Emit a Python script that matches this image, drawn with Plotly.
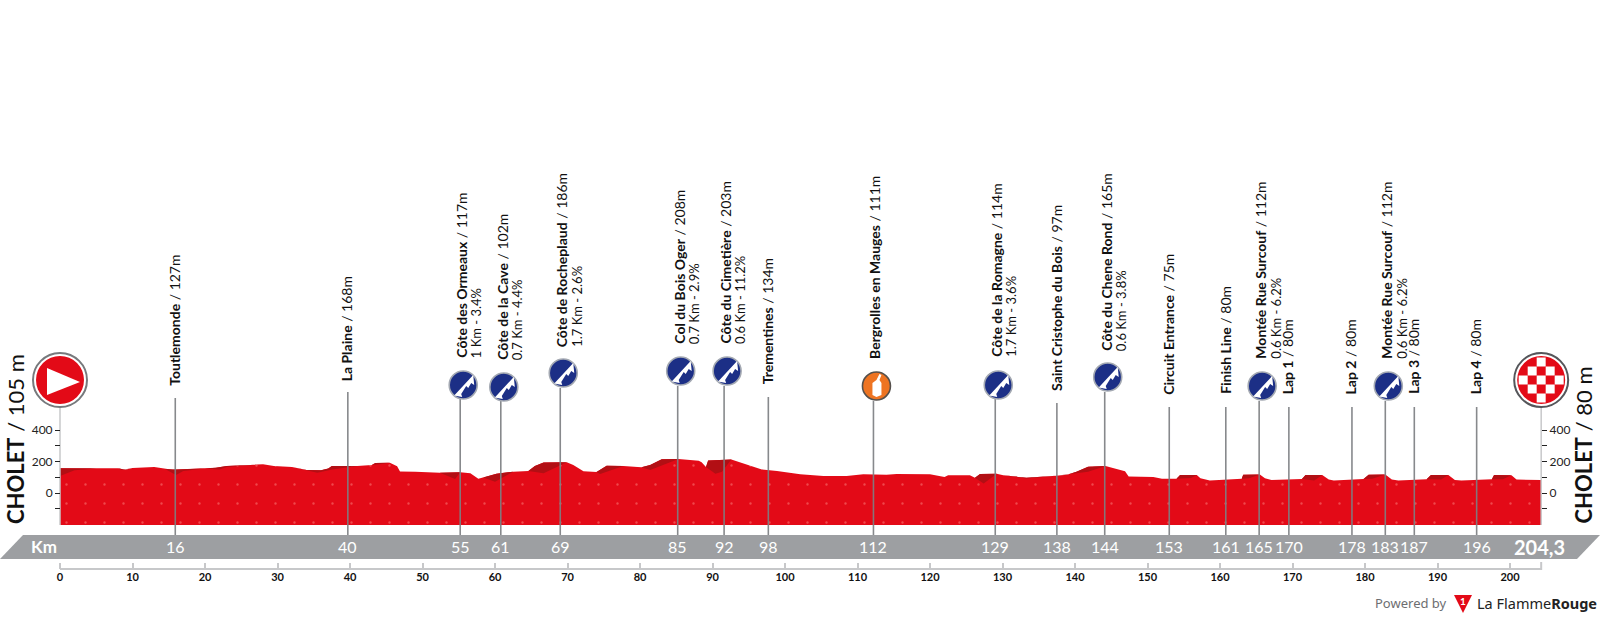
import plotly.graph_objects as go

# profile (km, metres on the chart's own scale)
profile_km = [
    0, 2, 5, 8, 9, 10, 13, 14.5, 15.5, 16, 20, 21.5, 23, 28, 29.5, 32, 34, 36, 37, 37.5, 41, 43, 43.5, 45.5, 46.5,
    46.9, 49, 52.4, 55.2, 56.6, 57.7, 58.4, 60.2, 62.5, 64.6, 65.5, 66.7, 69.9, 70.8, 72.2, 74, 75.4, 77.7, 80.2,
    81.4, 83, 85.3, 88.1, 88.5, 89.1, 89.4, 92.6, 94.7, 96.8, 98.9, 102.1, 105.3, 108.5, 110.8, 114, 115.4, 120,
    122, 122.5, 125.5, 126.2, 126.9, 129.2, 130.1, 133.3, 137.4, 138.9, 140.2, 141.8, 144.2, 146.9, 147.4, 150.8,
    152, 154, 154.5, 156.8, 157.3, 158.6, 163, 163.2, 165.5, 166.2, 167.1, 171.3, 171.8, 174.1, 175, 175.7, 179.8,
    180.5, 182.8, 183.7, 184.6, 188.5, 189.1, 191.5, 192.4, 193.3, 197.5, 197.8, 200.2, 200.9, 204.3,
]
profile_m = [
    157, 157, 155, 157, 147, 158, 165, 152, 148, 150, 155, 160, 172, 182, 172, 165, 146, 145, 155, 172, 172, 177,
    190, 192, 170, 137, 135, 129, 131, 125, 91, 99, 123, 135, 140, 171, 193, 195, 178, 138, 133, 173, 171, 163,
    178, 214, 216, 205, 195, 165, 207, 212, 182, 150, 140, 119, 108, 108, 119, 116, 121, 119, 102, 112, 112, 97,
    121, 123, 112, 97, 110, 116, 135, 167, 171, 138, 104, 102, 91, 91, 114, 114, 93, 80, 91, 116, 118, 93, 83, 89,
    114, 114, 85, 80, 89, 116, 118, 85, 80, 87, 114, 114, 83, 80, 87, 114, 112, 85, 83,
]

# darker climbing faces: lower edge of each one, ends sit on profile points
shade_km = [
    [0, 2, 5], [8, 8.5, 10], [14.5, 16, 17, 20], [20, 22, 23, 28], [32, 35.5, 37.5, 41], [41, 43.5, 45.5],
    [52.4, 54.5, 55.2], [58.4, 60, 62.5], [64.6, 66.7, 69.9], [74, 74.5, 77.7], [80.2, 81.4, 85.3],
    [89.1, 90.4, 91.3, 92.6], [126.2, 127.4, 129.2], [130.1, 133.3, 137.4], [137.4, 141.8, 144.2],
    [154, 156, 156.8], [163, 164, 165.5], [171.3, 173, 174.1], [179.8, 181, 182.8], [188.5, 190.5, 191.5],
    [197.5, 199, 200.2],
]
shade_m = [
    [108, 145, 155], [157, 146, 158], [152, 114, 140, 155], [155, 150, 165, 182], [165, 129, 150, 172],
    [172, 180, 192], [129, 89, 131], [99, 72, 135], [140, 125, 195], [133, 121, 171], [163, 146, 216],
    [165, 123, 135, 212], [97, 61, 123], [112, 92, 110], [110, 135, 171], [91, 95, 114], [91, 93, 118],
    [89, 80, 114], [89, 90, 118], [87, 85, 114], [87, 88, 112],
]

stop_km = [15.9, 39.7, 55.2, 60.8, 69, 85.2, 91.6, 97.7, 112.2, 129, 137.5, 144.1, 153, 160.8, 165.4, 169.5, 178.2,
           182.8, 186.8, 195.4]
stop_tick = ["16", "40", "55", "61", "69", "85", "92", "98", "112", "129", "138", "144", "153", "161", "165", "170",
             "178", "183", "187", "196"]
stop_name = ["Toutlemonde", "La Plaine", "Côte des Ormeaux", "Côte de la Cave", "Côte de Rocheplaud",
             "Col du Bois Oger", "Côte du Cimetière", "Trementines", "Bergrolles en Mauges", "Côte de la Romagne",
             "Saint Cristophe du Bois", "Côte du Chene Rond", "Circuit Entrance", "Finish Line",
             "Montée Rue Surcouf", "Lap 1", "Lap 2", "Montée Rue Surcouf", "Lap 3", "Lap 4"]
stop_height = [127, 168, 117, 102, 186, 208, 203, 134, 111, 114, 97, 165, 75, 80, 112, 80, 80, 112, 80, 80]
stop_climb = ["", "", "1 Km - 3.4%", "0.7 Km - 4.4%", "1.7 Km - 2.6%", "0.7 Km - 2.9%", "0.6 Km - 11.2%", "", "",
              "1.7 Km - 3.6%", "", "0.6 Km - 3.8%", "", "", "0.6 Km - 6.2%", "", "", "0.6 Km - 6.2%", "", ""]
stop_icon = ["", "", "climb", "climb", "climb", "climb", "climb", "", "feed", "climb", "", "climb", "", "", "climb",
             "", "", "climb", "", ""]

ruler_ticks = [0, 10, 20, 30, 40, 50, 60, 70, 80, 90, 100, 110, 120, 130, 140, 150, 160, 170, 180, 190, 200]
elev_ticks = [-100, 0, 100, 200, 300, 400]
elev_labels = ["", "0", "", "200", "", "400"]
total_km = 204.3

# page layout in pixels, kept apart from the data
W, H = 1600, 620
KM_PX = 7.25
M_PX = 0.1575
stem_top_px = [398, 392, 398, 401, 388, 386, 386, 397, 401, 399, 403, 392, 407, 407, 401, 407, 407, 401, 407, 407]
label_bottom_px = [387, 382, 359, 361, 348, 345, 345, 385, 360, 358, 392, 352, 396, 395, 360, 395, 395, 360, 395, 395]
icon_px = [None, None, 385, 387, 373, 371, 371, None, 386, 385, None, 377, None, None, 386, None, None, 386, None, None]

RED = "#E30A17"
DARK_RED = "#B20F14"
NAVY = "#1C2F86"
GREY = "#9D9FA2"
FONT = "Lato"


def m_at(py):
    return (493 - py) / M_PX


def px(x):
    return x / W


def py(y):
    return 1 - y / H


fig = go.Figure()

# profile
fig.add_trace(go.Scatter(
    x=[0] + profile_km + [total_km, 0],
    y=[m_at(525)] + profile_m + [m_at(525), m_at(525)],
    mode="lines", fill="toself", line=dict(width=0), fillcolor=RED,
    fillpattern=dict(shape=".", size=19, solidity=0.012, fgcolor="#F0484C", bgcolor=RED, fillmode="replace"),
    hoverinfo="skip",
))
for kms, lows in zip(shade_km, shade_m):
    top = [(k, m) for k, m in zip(profile_km, profile_m) if kms[0] <= k <= kms[-1]]
    fig.add_trace(go.Scatter(
        x=[t[0] for t in top] + kms[::-1],
        y=[t[1] for t in top] + lows[::-1],
        mode="lines", fill="toself", line=dict(width=0), fillcolor=DARK_RED, hoverinfo="skip",
    ))

# elevation axis lines, ruler base and stems
fig.add_trace(go.Scatter(x=[0, 0], y=[m_at(405), m_at(525)], mode="lines",
                         line=dict(color="#C7C8CA", width=1.5), hoverinfo="skip"))
fig.add_trace(go.Scatter(x=[total_km, total_km], y=[m_at(405), m_at(525)], mode="lines", yaxis="y2",
                         line=dict(color="#C7C8CA", width=1.5), hoverinfo="skip"))
fig.add_trace(go.Scatter(x=[0, total_km, total_km], y=[m_at(569), m_at(569), m_at(562)], mode="lines",
                         line=dict(color="#C7C8CA", width=2), hoverinfo="skip"))
stem_x, stem_y = [], []
for k, top in zip(stop_km, stem_top_px):
    stem_x += [k, k, None]
    stem_y += [m_at(top), m_at(535), None]
fig.add_trace(go.Scatter(x=stem_x, y=stem_y, mode="lines", line=dict(color="rgba(125,127,130,0.92)", width=1.6),
                         hoverinfo="skip"))

shapes = []


def icon_path(points):
    return "M " + " L ".join(f"{x},{y}" for x, y in points) + " Z"


def disc(km, m, r, dx=0, **style):
    shapes.append(dict(type="circle", xref="x", yref="y", xsizemode="pixel", ysizemode="pixel", xanchor=km, yanchor=m,
                       x0=dx - r, x1=dx + r, y0=-r, y1=r, layer="above", **style))


def poly(km, m, points, fill, dx=0):
    shapes.append(dict(type="path", xref="x", yref="y", xsizemode="pixel", ysizemode="pixel", xanchor=km, yanchor=m,
                       path=icon_path([(x + dx, y) for x, y in points]), fillcolor=fill, line=dict(width=0),
                       layer="above"))


# km band
shapes.append(dict(type="path", xref="paper", yref="paper", layer="below", fillcolor=GREY, line=dict(width=0),
                   path=icon_path([(px(0), py(559)), (px(23), py(535)), (px(1600), py(535)), (px(1577), py(559))])))

# climb and feed badges
for k, icon, y in zip(stop_km, stop_icon, icon_px):
    if icon == "climb":
        m = m_at(y)
        disc(k, m, 14, dx=3, fillcolor=NAVY, line=dict(color="#A4A9B2", width=1.6))
        poly(k, m, [(-9, -10.5), (10, 10), (11, 0), (8, 2), (5, -3), (3, -1), (-2, -9), (-1, -12)], "white", dx=3)
    elif icon == "feed":
        m = m_at(y)
        disc(k, m, 14, dx=3, fillcolor="#EE7422", line=dict(color="#55504C", width=1.6))
        poly(k, m, [(-4, -9), (-4, 3), (0, 6), (3, 12), (5, 11), (3, 6), (5, 3), (5, -9), (0, -11)], "white", dx=3)

# start and finish badges
start_m = finish_m = m_at(380)
disc(0, start_m, 27, fillcolor="white", line=dict(color="#77797C", width=2))
disc(0, start_m, 24, fillcolor=RED, line=dict(width=0))
poly(0, start_m, [(-13, -15), (-13, 12), (20, -2)], "white")
disc(total_km, finish_m, 27, fillcolor="white", line=dict(color="#55565A", width=2))
disc(total_km, finish_m, 24, fillcolor=RED, line=dict(width=0))
SQ = 9
for col, row in [(0, 0), (1, 1), (-1, 1), (1, -1), (-1, -1), (2, 0), (-2, 0), (0, 2), (0, -2)]:
    cx, cy = col * SQ, row * SQ
    w = SQ / 2
    poly(total_km, finish_m, [(cx - w, cy - w), (cx + w, cy - w), (cx + w, cy + w), (cx - w, cy + w)], "white")

# logo flag
shapes.append(dict(type="path", xref="paper", yref="paper", fillcolor="#E30A17", line=dict(width=0), layer="above",
                   path=icon_path([(px(1454), py(595)), (px(1472), py(595)), (px(1463), py(613))])))

annotations = []


def text(x, y, s, size, color="#111111", angle=0, xanchor="center", yanchor="middle", family=FONT, xref="paper",
         yref="paper", xshift=0):
    annotations.append(dict(x=x, y=y, text=s, xref=xref, yref=yref, showarrow=False, textangle=angle, xshift=xshift,
                            xanchor=xanchor, yanchor=yanchor, font=dict(size=size, color=color, family=family)))


for k, tick, name, h, climb, icon, bottom in zip(stop_km, stop_tick, stop_name, stop_height, stop_climb, stop_icon,
                                                 label_bottom_px):
    dx = 1 if icon else -1
    text(k, py(bottom + 1), f"<b>{name}</b> / {h}m", 14, angle=-90, yanchor="bottom", xref="x", xshift=dx)
    if climb:
        text(k, py(bottom + 1), climb, 13, angle=-90, yanchor="bottom", xref="x", xshift=dx + 15)
    text(k, py(546.5), tick, 16, color="white", xref="x")

text(px(44), py(546.5), "<b>Km</b>", 17, color="white")
text(px(1539), py(546.5), "<b>204,3</b>", 20, color="white")
text(px(15), py(526), "<b>CHOLET</b> / 105 m", 22, angle=-90, yanchor="bottom")
text(px(1583), py(526), "<b>CHOLET</b> / 80 m", 22, angle=-90, yanchor="bottom")
text(px(1373), py(603), "Powered by", 13, color="#6D6E71", xanchor="left", family="Noto Sans")
text(px(1463), py(601), "<b>1</b>", 10, color="white")
text(px(1475), py(603), "La Flamme<b>Rouge</b>", 14.5, color="#222222", xanchor="left", family="Noto Sans")

y_range = [m_at(H), m_at(0)]
elev_axis = dict(range=y_range, tickmode="array", tickvals=elev_ticks, ticktext=elev_labels, ticks="outside", ticklen=5,
                 tickwidth=1, tickcolor="#222222", tickfont=dict(size=12, color="#222222", family=FONT),
                 showgrid=False, zeroline=False, showline=False, anchor="free", fixedrange=True)

fig.update_layout(
    width=W, height=H, margin=dict(l=0, r=0, t=0, b=0), showlegend=False,
    paper_bgcolor="white", plot_bgcolor="white", shapes=shapes, annotations=annotations,
    xaxis=dict(range=[-60 / KM_PX, (W - 60) / KM_PX], tickmode="array", tickvals=ruler_ticks,
               ticktext=[f"<b>{t}</b>" for t in ruler_ticks], ticks="inside", ticklen=6, tickwidth=2,
               tickcolor="#C7C8CA", tickfont=dict(size=11, color="#111111", family=FONT), showgrid=False,
               zeroline=False, showline=False, anchor="free", position=py(569), fixedrange=True),
    yaxis=dict(position=px(60), side="left", **elev_axis),
    yaxis2=dict(position=px(total_km * KM_PX + 60), side="right", overlaying="y", **elev_axis),
)

# the page's default body margin would push the chart off the window
fig.write_html("out.html", config={"displayModeBar": False}, post_script="document.body.style.margin='0';")
